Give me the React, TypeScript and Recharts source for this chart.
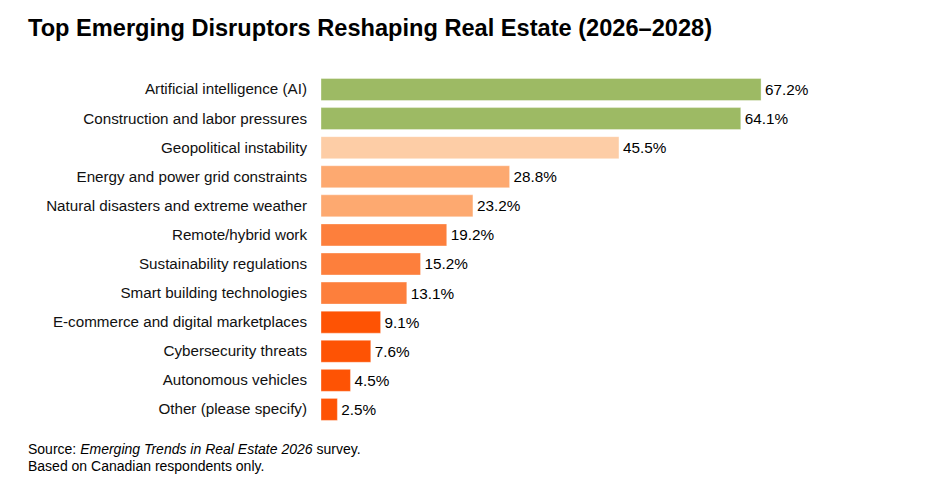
import React from 'react';
import { BarChart, Bar, XAxis, YAxis, Cell, LabelList } from 'recharts';

const categories = [
  'Artificial intelligence (AI)',
  'Construction and labor pressures',
  'Geopolitical instability',
  'Energy and power grid constraints',
  'Natural disasters and extreme weather',
  'Remote/hybrid work',
  'Sustainability regulations',
  'Smart building technologies',
  'E-commerce and digital marketplaces',
  'Cybersecurity threats',
  'Autonomous vehicles',
  'Other (please specify)',
];

const shares = [67.2, 64.1, 45.5, 28.8, 23.2, 19.2, 15.2, 13.1, 9.1, 7.6, 4.5, 2.5];

const barColors = [
  '#9dba64', '#9dba64', '#fdcda6', '#fda970', '#fda970', '#fd7f3c',
  '#fd7f3c', '#fd7f3c', '#fe5304', '#fe5304', '#fe5304', '#fe5304',
];

const data = categories.map((name, i) => ({ name, value: shares[i] }));

const FONT = '"Liberation Sans", Arial, Helvetica, sans-serif';

export default function App() {
  return (
    <div style={{ position: 'absolute', left: 0, top: 0, width: 946, height: 492, background: '#fff', fontFamily: FONT }}>
      <div style={{ position: 'absolute', left: 28, top: 13, fontSize: 23.6, lineHeight: '30px', fontWeight: 700, color: '#000', whiteSpace: 'nowrap' }}>
        Top Emerging Disruptors Reshaping Real Estate (2026–2028)
      </div>
      <BarChart
        width={946}
        height={492}
        data={data}
        layout="vertical"
        margin={{ top: 74.5, right: 166.6, bottom: 68.5, left: 0 }}
      >
        <XAxis type="number" domain={[0, 70]} hide />
        <YAxis
          type="category"
          dataKey="name"
          width={321}
          axisLine={false}
          tickLine={false}
          tickSize={0}
          tickMargin={14}
          interval={0}
          tick={{ fontSize: 15.2, fill: '#111', fontFamily: FONT }}
        />
        <Bar dataKey="value" barSize={22} isAnimationActive={false}>
          {data.map((d, i) => (
            <Cell key={d.name} fill={barColors[i]} stroke="#ffffff" strokeOpacity={0.35} strokeWidth={1} />
          ))}
          <LabelList
            dataKey="value"
            position="right"
            offset={4}
            formatter={(v: number) => `${v.toFixed(1)}%`}
            style={{ fontSize: 15.3, fill: '#000', fontFamily: FONT }}
          />
        </Bar>
      </BarChart>
      <div style={{ position: 'absolute', left: 28, top: 441, fontSize: 14, lineHeight: '16.5px', color: '#000' }}>
        <div>Source: <i>Emerging Trends in Real Estate 2026</i> survey.</div>
        <div>Based on Canadian respondents only.</div>
      </div>
    </div>
  );
}
